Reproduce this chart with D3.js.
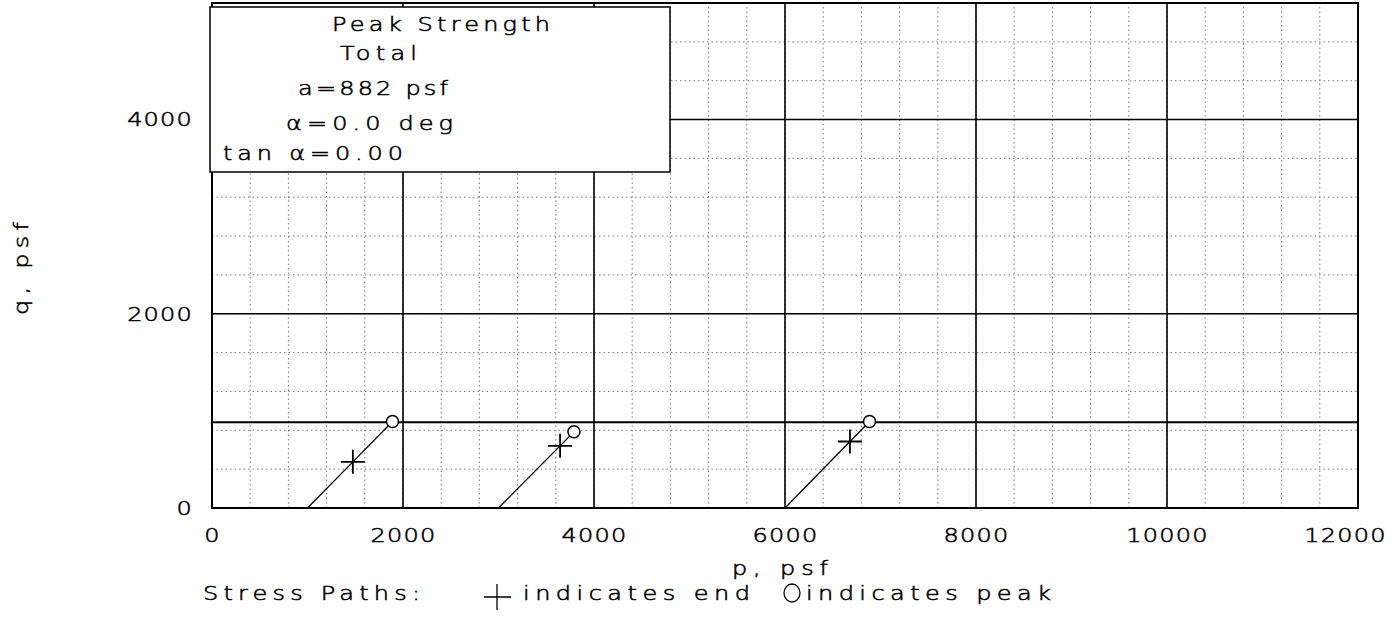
<!DOCTYPE html>
<html>
<head>
<meta charset="utf-8">
<script src="https://cdn.jsdelivr.net/npm/d3@7/dist/d3.min.js"></script>
<style>
  html, body { margin: 0; padding: 0; background: #fff; }
  svg { display: block; }
  text { font-family: "DejaVu Sans", "Liberation Sans", sans-serif; font-weight: 200;
         fill: #000; stroke: #000; stroke-width: 0.55px; }
</style>
</head>
<body>
<svg id="chart" width="1396" height="625"></svg>
<script>
// Axis ticks (psf)
const pTicks = [0, 2000, 4000, 6000, 8000, 10000, 12000];
const qTicks = [0, 2000, 4000];

// Failure envelope parameters
const envelopeA = 882;      // a, psf
const envelopeAlpha = 0.0;  // alpha, deg

// Stress paths: start, end (+) and peak (o) points
const startP = [1000, 3000, 6000];
const startQ = [0, 0, 0];
const endP   = [1475, 3645, 6680];
const endQ   = [475, 640, 685];
const peakP  = [1890, 3790, 6885];
const peakQ  = [890, 785, 890];

// Legend text
const legendLines = ["Peak Strength", "Total", "a=882 psf", "α=0.0 deg", "tan α=0.00"];

const svg = d3.select("#chart");
const x = d3.scaleLinear().domain([0, 12000]).range([212, 1358]);
const y = d3.scaleLinear().domain([0, 5200]).range([508, 3]);

// plotter-style lettering: glyphs widened horizontally
const SX = 1.2;
function label(parent, px, py, str, width, opts = {}) {
  const t = parent.append("text")
    .attr("transform", `translate(${px},${py}) scale(${SX},1)`)
    .attr("font-size", 20)
    .text(str);
  if (width) t.attr("textLength", width / SX).attr("lengthAdjust", "spacing");
  if (opts.anchor) t.attr("text-anchor", opts.anchor);
  return t;
}

const g = svg.append("g");

// minor dotted grid every 400 psf
g.append("g").selectAll("line").data(d3.range(400, 12000, 400)).join("line")
  .attr("x1", d => x(d)).attr("x2", d => x(d))
  .attr("y1", y(0)).attr("y2", y(5200))
  .attr("stroke", "#777").attr("stroke-width", 1).attr("stroke-dasharray", "1.5,3");
g.append("g").selectAll("line").data(d3.range(400, 5200, 400)).join("line")
  .attr("x1", x(0)).attr("x2", x(12000))
  .attr("y1", d => y(d)).attr("y2", d => y(d))
  .attr("stroke", "#777").attr("stroke-width", 1).attr("stroke-dasharray", "1.5,3");

// major grid every 2000 psf
g.append("g").selectAll("line").data(pTicks.slice(1, -1)).join("line")
  .attr("x1", d => x(d)).attr("x2", d => x(d))
  .attr("y1", y(0)).attr("y2", y(5200))
  .attr("stroke", "#000").attr("stroke-width", 1.6);
g.append("g").selectAll("line").data(qTicks.slice(1)).join("line")
  .attr("x1", x(0)).attr("x2", x(12000))
  .attr("y1", d => y(d)).attr("y2", d => y(d))
  .attr("stroke", "#000").attr("stroke-width", 1.6);

// failure envelope q = a + p tan(alpha)
const tanA = Math.tan(envelopeAlpha * Math.PI / 180);
g.append("line")
  .attr("x1", x(0)).attr("x2", x(12000))
  .attr("y1", y(envelopeA)).attr("y2", y(envelopeA + 12000 * tanA))
  .attr("stroke", "#000").attr("stroke-width", 2);

// plot frame
g.append("rect")
  .attr("x", x(0)).attr("y", y(5200))
  .attr("width", x(12000) - x(0)).attr("height", y(0) - y(5200))
  .attr("fill", "none").attr("stroke", "#000").attr("stroke-width", 2);

// stress paths
const line = d3.line().x(d => x(d[0])).y(d => y(d[1]));
startP.forEach((p0, i) => {
  g.append("path")
    .attr("d", line([[p0, startQ[i]], [endP[i], endQ[i]], [peakP[i], peakQ[i]]]))
    .attr("fill", "none").attr("stroke", "#000").attr("stroke-width", 1.3);
  // peak marker
  g.append("circle")
    .attr("cx", x(peakP[i])).attr("cy", y(peakQ[i])).attr("r", 6)
    .attr("fill", "#fff").attr("stroke", "#000").attr("stroke-width", 1.5);
  // end marker
  const ex = x(endP[i]), ey = y(endQ[i]);
  g.append("path")
    .attr("d", `M${ex - 12},${ey}H${ex + 12}M${ex},${ey - 12}V${ey + 12}`)
    .attr("stroke", "#000").attr("stroke-width", 1.8).attr("fill", "none");
});

// legend box
const box = g.append("g");
box.append("rect")
  .attr("x", 210).attr("y", 7).attr("width", 460).attr("height", 165)
  .attr("fill", "#fff").attr("stroke", "#000").attr("stroke-width", 1.5);
const legendX = [332, 340, 298, 286, 223];
const legendY = [31, 60, 95, 130, 160];
const legendW = [218, 77, 150, 167, 180];
legendLines.forEach((s, i) => label(box, legendX[i], legendY[i], s, legendW[i]));

// axes (labels only)
const fmt = d3.format("d");
const xAxis = svg.append("g").attr("transform", `translate(0,${y(0)})`)
  .call(d3.axisBottom(x).tickValues(pTicks).tickFormat(fmt).tickSize(0).tickPadding(20));
xAxis.select(".domain").remove();
xAxis.selectAll("text").attr("font-size", 20).attr("letter-spacing", "1px")
  .attr("font-family", null).attr("dy", "0.71em")
  .attr("transform", `scale(${SX},1)`);
xAxis.selectAll(".tick").filter(d => d === 12000).select("text").attr("dx", -13 / SX);

const yAxis = svg.append("g").attr("transform", `translate(${x(0)},0)`)
  .call(d3.axisLeft(y).tickValues(qTicks).tickFormat(fmt).tickSize(0).tickPadding(18));
yAxis.select(".domain").remove();
yAxis.selectAll("text").attr("font-size", 20).attr("letter-spacing", "1px")
  .attr("font-family", null)
  .attr("x", -19 / SX).attr("transform", `scale(${SX},1)`);

// axis titles
label(svg, 732, 575, "p, psf", 96);
svg.append("g").attr("transform", "translate(28,315) rotate(-90)")
  .call(s => label(s, 0, 0, "q, psf", 93));

// stress path key
const key = svg.append("g");
label(key, 203, 600, "Stress Paths:", 217);
key.append("path")
  .attr("d", "M484,597H511M497,584V610")
  .attr("stroke", "#000").attr("stroke-width", 1.3);
label(key, 523, 600, "indicates end", 227);
key.append("ellipse").attr("cx", 792).attr("cy", 593).attr("rx", 8).attr("ry", 9)
  .attr("fill", "none").attr("stroke", "#000").attr("stroke-width", 1.3);
label(key, 806, 600, "indicates peak", 245);
</script>
</body>
</html>
